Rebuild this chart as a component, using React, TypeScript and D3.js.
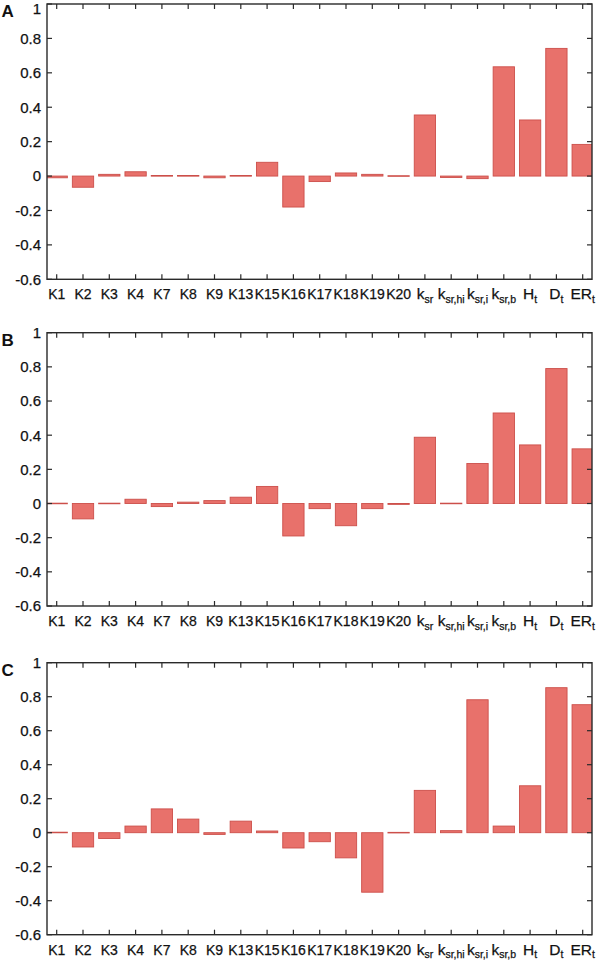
import React from "react";
import * as d3 from "d3";

const categories = ["K1","K2","K3","K4","K7","K8","K9","K13","K15","K16","K17","K18","K19","K20","ksr","ksr,hi","ksr,i","ksr,b","Ht","Dt","ERt"];
const labelMain = ["K1","K2","K3","K4","K7","K8","K9","K13","K15","K16","K17","K18","K19","K20","k","k","k","k","H","D","ER"];
const labelSub = ["","","","","","","","","","","","","","","sr","sr,hi","sr,i","sr,b","t","t","t"];

const valuesA = [-0.01, -0.065, 0.01, 0.025, 0.003, 0.003, -0.01, 0.003, 0.08, -0.18, -0.032, 0.018, 0.01, 0.002, 0.355, -0.008, -0.015, 0.635, 0.326, 0.742, 0.184];
const valuesB = [0.002, -0.09, 0.002, 0.025, -0.018, 0.008, 0.017, 0.037, 0.1, -0.19, -0.03, -0.13, -0.03, -0.005, 0.388, 0.002, 0.234, 0.53, 0.343, 0.79, 0.32];
const valuesC = [0.003, -0.084, -0.034, 0.039, 0.14, 0.08, -0.01, 0.068, 0.01, -0.09, -0.053, -0.148, -0.35, 0.002, 0.249, 0.012, 0.782, 0.039, 0.276, 0.853, 0.753];

const yTicks = [-0.6, -0.4, -0.2, 0, 0.2, 0.4, 0.6, 0.8, 1];
const yTickLabels = ["-0.6", "-0.4", "-0.2", "0", "0.2", "0.4", "0.6", "0.8", "1"];
const panelLetters = ["A", "B", "C"];

const panels = [
  { letter: panelLetters[0], values: valuesA, top: 4, bottom: 279.3 },
  { letter: panelLetters[1], values: valuesB, top: 332.7, bottom: 606 },
  { letter: panelLetters[2], values: valuesC, top: 662.7, bottom: 934.7 },
];

const LEFT = 47;
const RIGHT = 592;
const FONT = "'Liberation Sans', Arial, Helvetica, sans-serif";
const FRAME = "#2a2a2a";

function Panel({ p, idx }: { p: any; idx: number }) {
  const x = d3.scalePoint<string>().domain(categories).range([56.7, 582.7]);
  const y = d3.scaleLinear().domain([-0.6, 1]).range([p.bottom, p.top]);
  const bw = x.step() * 0.81;
  const clipId = `clip${idx}`;
  const tick = 5;
  return (
    <g>
      <defs>
        <clipPath id={clipId}>
          <rect x={LEFT} y={p.top} width={RIGHT - LEFT} height={p.bottom - p.top} />
        </clipPath>
      </defs>
      <g clipPath={`url(#${clipId})`}>
        {p.values.map((v: number, i: number) => {
          const y0 = y(0);
          const y1 = y(v);
          const h = Math.max(Math.abs(y1 - y0), 0.6);
          return (
            <rect
              key={i}
              x={(x(categories[i]) as number) - bw / 2}
              y={Math.min(y0, y1)}
              width={bw}
              height={h}
              fill="#e8716b"
              stroke="#cc4f4a"
              strokeWidth={0.9}
            />
          );
        })}
      </g>
      <rect x={LEFT} y={p.top} width={RIGHT - LEFT} height={p.bottom - p.top} fill="none" stroke={FRAME} strokeWidth={1.4} />
      {categories.map((c, i) => {
        const cx = x(c) as number;
        const hasSub = !!labelSub[i];
        return (
          <g key={c}>
            <line x1={cx} x2={cx} y1={p.top} y2={p.top + tick} stroke={FRAME} strokeWidth={1.2} />
            <line x1={cx} x2={cx} y1={p.bottom} y2={p.bottom - tick} stroke={FRAME} strokeWidth={1.2} />
            <text x={cx} y={p.bottom + 20} textAnchor="middle" fontFamily={FONT} fontSize={hasSub ? 15.5 : 14} fill="#111" stroke="#111" strokeWidth={0.25}>
              {labelMain[i]}
              {hasSub ? (
                <tspan fontSize={10.5} dy={3.5}>{labelSub[i]}</tspan>
              ) : null}
            </text>
          </g>
        );
      })}
      {yTicks.map((t, i) => {
        const ty = y(t);
        const ly = Math.max(ty, 9);
        return (
          <g key={t}>
            <line x1={LEFT} x2={LEFT + tick} y1={ty} y2={ty} stroke={FRAME} strokeWidth={1.2} />
            <line x1={RIGHT} x2={RIGHT - tick} y1={ty} y2={ty} stroke={FRAME} strokeWidth={1.2} />
            <text x={41} y={ly} dy="0.36em" textAnchor="end" fontFamily={FONT} fontSize={15} fill="#111" stroke="#111" strokeWidth={0.25}>
              {yTickLabels[i]}
            </text>
          </g>
        );
      })}
      <text x={1.5} y={p.top + 13} fontFamily={FONT} fontSize={17} fontWeight="bold" fill="#111">
        {p.letter}
      </text>
    </g>
  );
}

export default function App() {
  return (
    <svg width={600} height={963} style={{ position: "absolute", left: 0, top: 0, background: "#fff" }}>
      <rect x={0} y={0} width={600} height={963} fill="#fff" />
      {panels.map((p, i) => (
        <Panel key={i} p={p} idx={i} />
      ))}
    </svg>
  );
}
